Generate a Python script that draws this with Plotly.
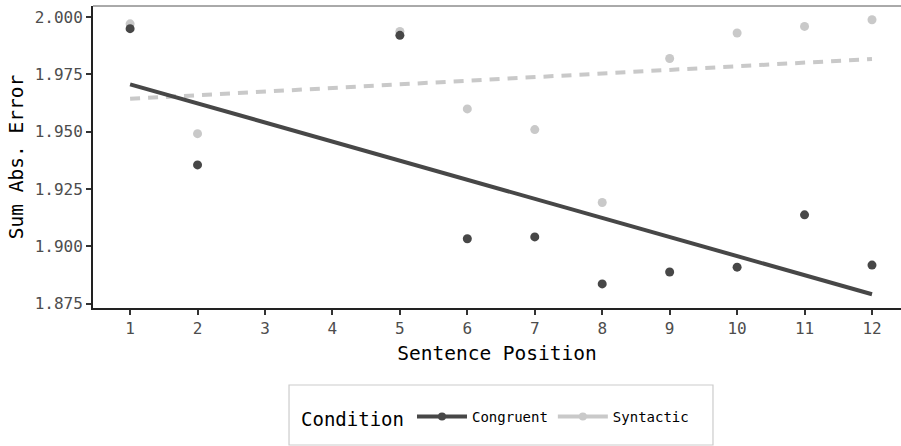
import numpy as np
import plotly.graph_objects as go

# Sentence positions with observations (positions 3 and 4 are absent)
positions = [1, 2, 5, 6, 7, 8, 9, 10, 11, 12]
congruent = [1.9949, 1.9355, 1.9920, 1.9033, 1.9041, 1.8836, 1.8888, 1.8909, 1.9137, 1.8918]
syntactic = [1.9970, 1.9491, 1.9937, 1.9599, 1.9509, 1.9191, 1.9819, 1.9930, 1.9959, 1.9988]
tick_positions = list(range(1, 13))
y_ticks = [1.875, 1.900, 1.925, 1.950, 1.975, 2.000]

DARK = "#474747"
LIGHT = "#c9c9c9"
MONO = "DejaVu Sans Mono"

x = np.array(positions, dtype=float)
x_fit = np.array([min(positions), max(positions)], dtype=float)


def ols(yvals):
    slope, intercept = np.polyfit(x, np.array(yvals), 1)
    return intercept + slope * x_fit


fit_c = ols(congruent)
fit_s = ols(syntactic)

all_y = congruent + syntactic + list(fit_c) + list(fit_s)
lo, hi = min(all_y), max(all_y)
pad = 0.05 * (hi - lo)

fig = go.Figure()

# linear fits
fig.add_trace(go.Scatter(x=x_fit, y=fit_s, mode="lines", showlegend=False,
                         line=dict(color=LIGHT, width=4, dash="10px,8px")))
fig.add_trace(go.Scatter(x=x_fit, y=fit_c, mode="lines", showlegend=False,
                         line=dict(color=DARK, width=4)))

# observed means
fig.add_trace(go.Scatter(x=positions, y=syntactic, mode="markers", showlegend=False,
                         marker=dict(color=LIGHT, size=9)))
fig.add_trace(go.Scatter(x=positions, y=congruent, mode="markers", showlegend=False,
                         marker=dict(color=DARK, size=9)))

# legend keys
fig.add_trace(go.Scatter(x=[None], y=[None], mode="lines+markers", name="Congruent",
                         line=dict(color=DARK, width=4), marker=dict(color=DARK, size=8)))
fig.add_trace(go.Scatter(x=[None], y=[None], mode="lines+markers", name="Syntactic",
                         line=dict(color=LIGHT, width=4), marker=dict(color=LIGHT, size=8)))

fig.update_layout(
    width=901, height=446,
    margin=dict(l=93, r=0, t=6, b=138),
    plot_bgcolor="white", paper_bgcolor="white",
    font=dict(family=MONO, color="black"),
    legend=dict(
        orientation="h", x=0.255, xanchor="left", y=-0.308, yanchor="top",
        title=dict(text="Condition", side="left", font=dict(size=19, color="black")),
        font=dict(size=14, color="black"),
        bgcolor="rgba(0,0,0,0)", borderwidth=0,
        itemwidth=50,
        traceorder="normal",
    ),
    shapes=[
        # thin top border of the panel
        dict(type="line", xref="paper", yref="paper", x0=0, x1=1, y0=1, y1=1,
             line=dict(color="#555555", width=1)),
        # legend frame
        dict(type="rect", xref="paper", yref="paper",
             x0=0.2426, x1=0.7673, y0=-0.4536, y1=-0.255,
             line=dict(color="#cccccc", width=1.2), layer="below"),
    ],
)

fig.update_xaxes(
    range=[0.45, 12.43], tickmode="array", tickvals=tick_positions,
    ticktext=[str(t) for t in tick_positions],
    showgrid=False, zeroline=False,
    showline=True, linecolor="#222222", linewidth=2,
    ticks="outside", ticklen=5, tickwidth=1.5, tickcolor="#333333",
    tickfont=dict(size=16, color="#4d4d4d", family=MONO),
    title=dict(text="Sentence Position", font=dict(size=19.5, color="black"), standoff=9),
)
fig.update_yaxes(
    range=[lo - pad, hi + pad], tickmode="array", tickvals=y_ticks,
    ticktext=[f"{v:.3f}" for v in y_ticks],
    showgrid=False, zeroline=False,
    showline=True, linecolor="#222222", linewidth=2,
    ticks="outside", ticklen=5, tickwidth=1.5, tickcolor="#333333",
    tickfont=dict(size=16, color="#4d4d4d", family=MONO),
    title=dict(text="Sum Abs. Error", font=dict(size=19.5, color="black"), standoff=6),
)

fig.write_html("out.html")
